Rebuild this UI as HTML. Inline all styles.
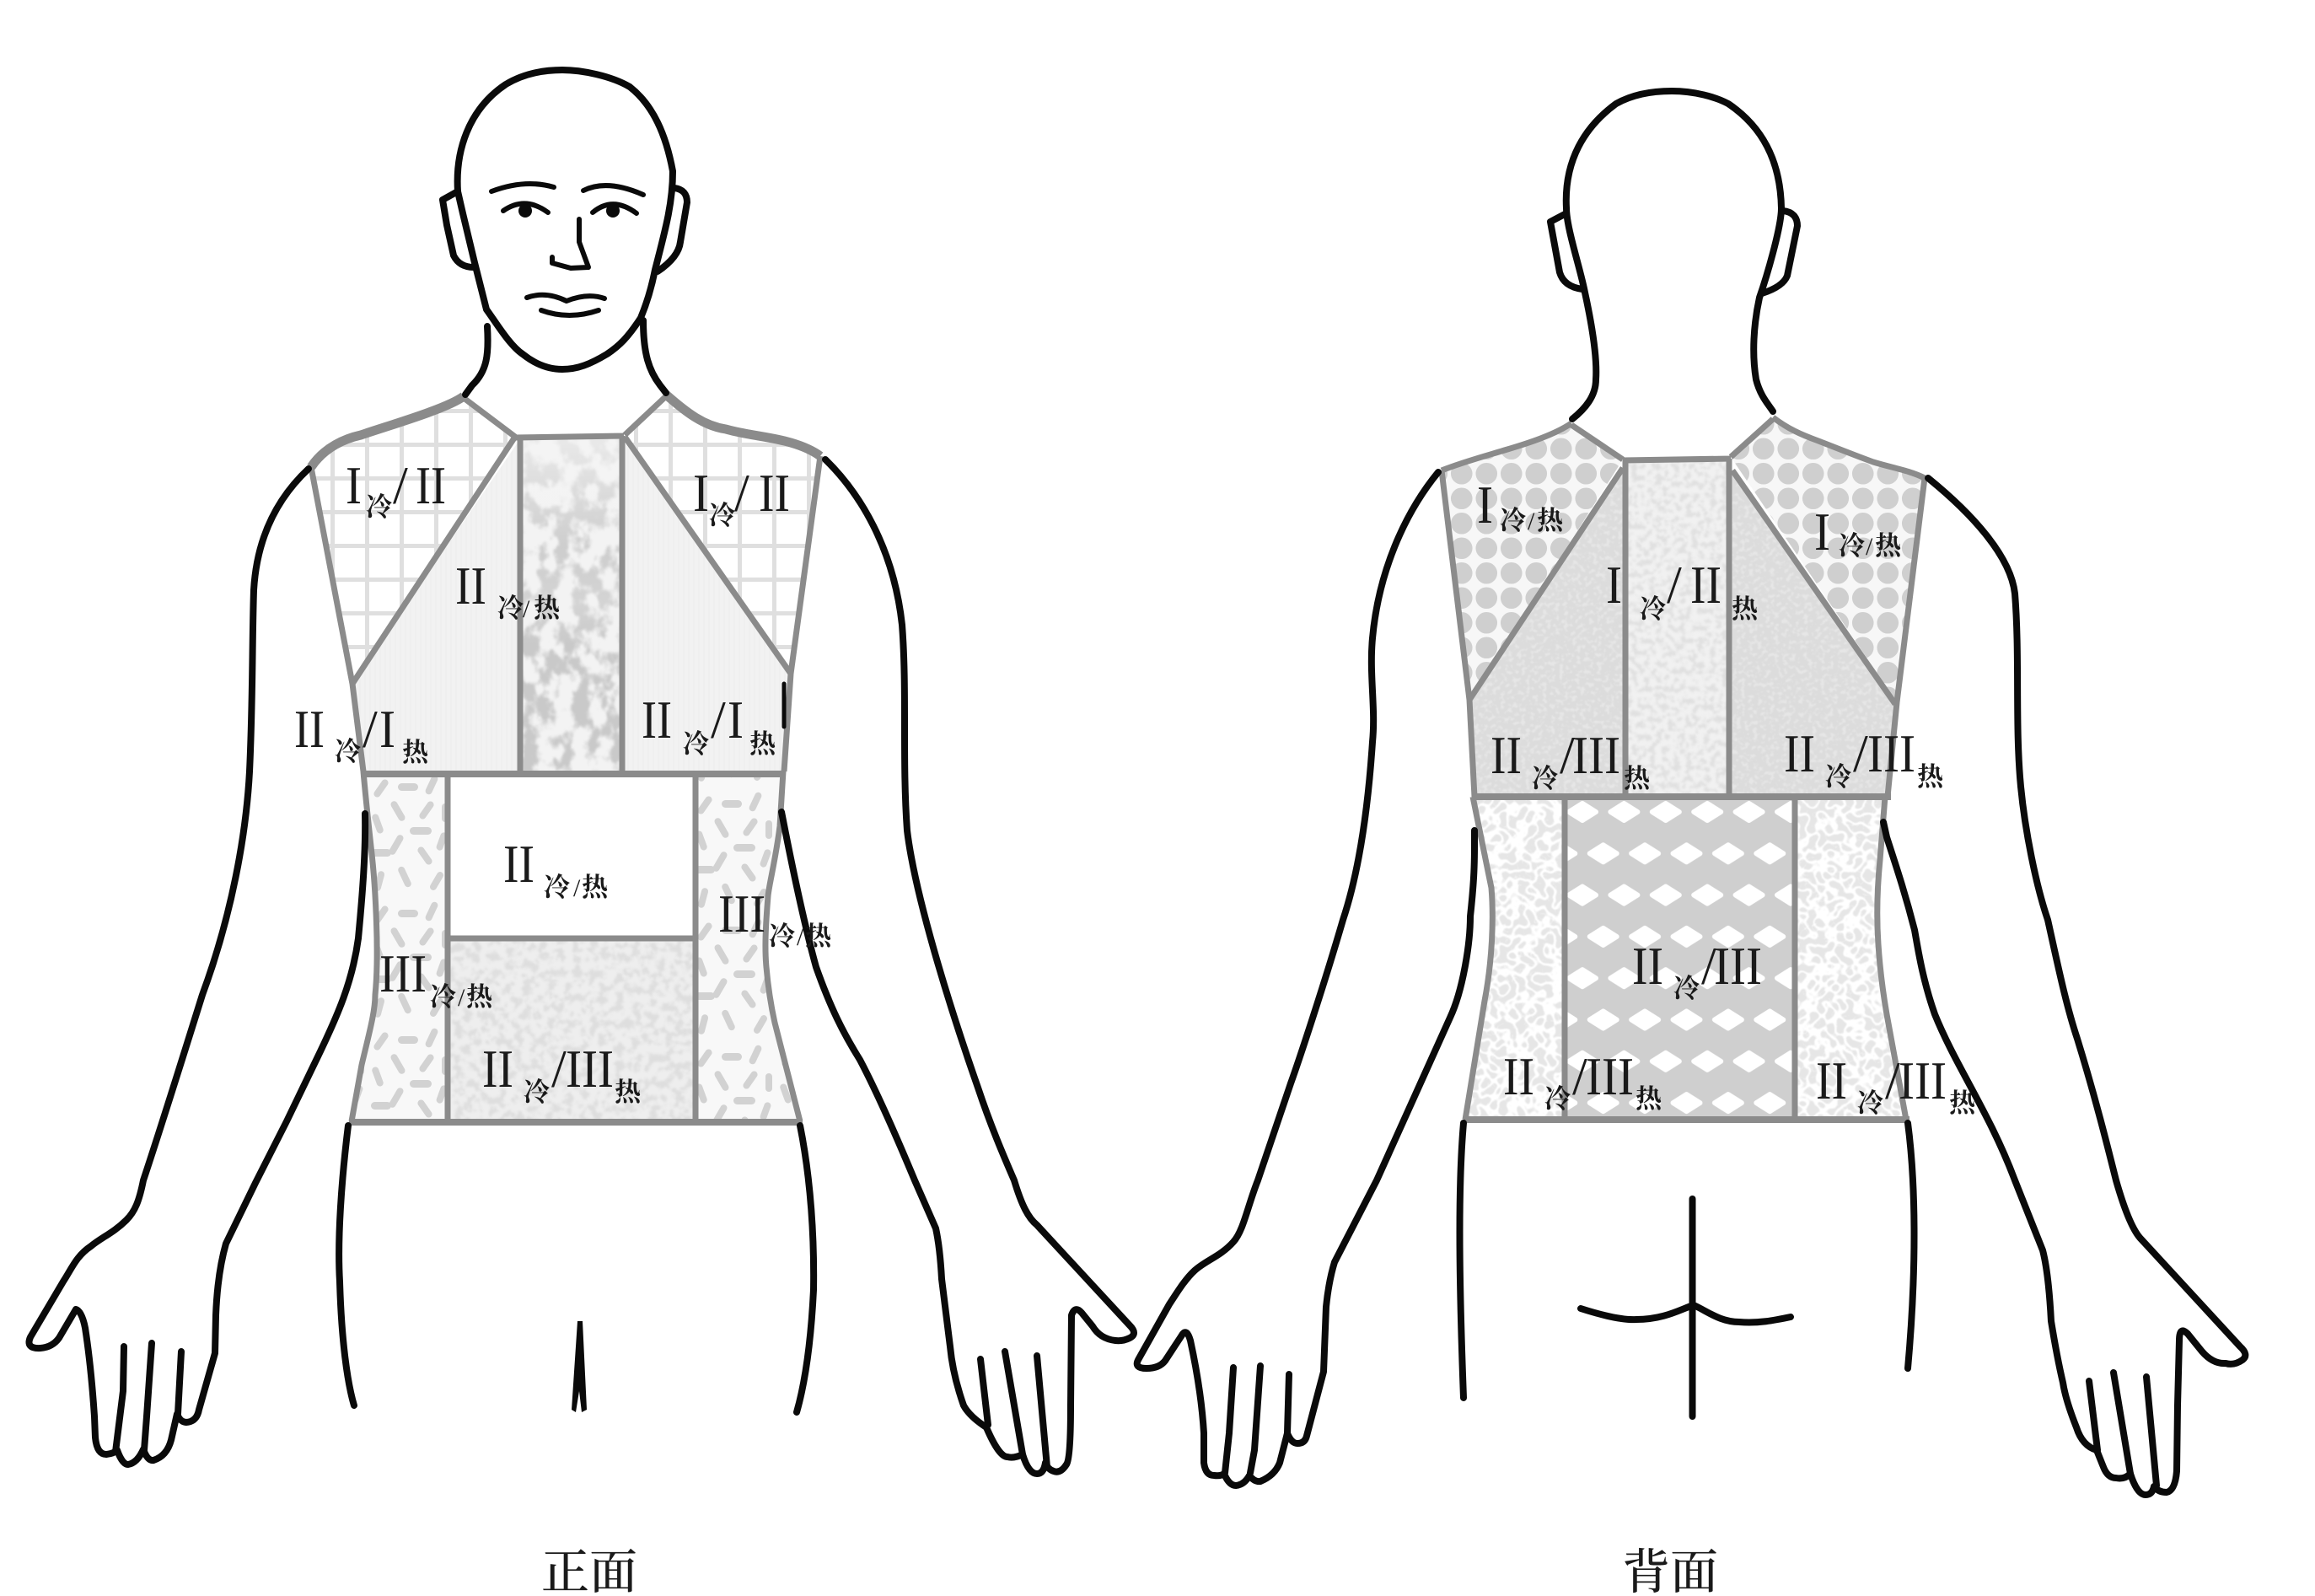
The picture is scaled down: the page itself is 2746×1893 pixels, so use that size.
<!DOCTYPE html>
<html lang="zh"><head><meta charset="utf-8"><title>正面 背面</title>
<style>
html,body{margin:0;padding:0;background:#fff}
svg{display:block}
.b{fill:none;stroke:#0a0a0a;stroke-width:8;stroke-linecap:round;stroke-linejoin:round}
.g{fill:none;stroke:#8b8b8b;stroke-width:7;stroke-linecap:butt;stroke-linejoin:round}
text{fill:#1a1a1a}
.n{font-family:"Liberation Serif",serif;font-size:64px}
.c{font-family:"Liberation Serif","Noto Serif CJK SC",serif;font-size:31px;font-weight:700}
.s{font-family:"Liberation Serif",serif;font-size:30px}
.t{font-family:"Liberation Serif","Noto Serif CJK SC",serif;font-size:57px;font-weight:500}
</style></head><body>
<svg xmlns="http://www.w3.org/2000/svg" width="2746" height="1893" viewBox="0 0 2746 1893">
<defs>
<linearGradient id="fadeV" x1="0" y1="0" x2="0" y2="1"><stop offset="0" stop-color="#f4f4f4" stop-opacity=".75"/><stop offset=".33" stop-color="#f4f4f4" stop-opacity=".1"/><stop offset=".5" stop-color="#f4f4f4" stop-opacity=".25"/><stop offset=".62" stop-color="#f4f4f4" stop-opacity="0"/><stop offset="1" stop-color="#f4f4f4" stop-opacity="0"/></linearGradient>
<pattern id="gridL" patternUnits="userSpaceOnUse" width="41" height="40" x="0" y="0"><rect x="23" width="5" height="40" fill="#dfdfdf"/><rect y="5" width="41" height="5" fill="#dfdfdf"/></pattern>
<pattern id="gridR" patternUnits="userSpaceOnUse" width="41" height="40" x="0" y="0"><rect x="14" width="5" height="40" fill="#dfdfdf"/><rect y="5" width="41" height="5" fill="#dfdfdf"/></pattern>
<pattern id="stripes" patternUnits="userSpaceOnUse" width="6" height="6"><rect width="6" height="6" fill="#f2f2f2"/><rect width="2" height="6" fill="#efefef"/></pattern>
<pattern id="dotsL" patternUnits="userSpaceOnUse" width="29.5" height="29.5" x="1778" y="547"><rect width="29.5" height="29.5" fill="#f7f7f7"/><circle cx="14.75" cy="14.75" r="12.800" fill="#cfcfcf"/></pattern>
<pattern id="dotsR" patternUnits="userSpaceOnUse" width="29.5" height="29.5" x="2077" y="547"><rect width="29.5" height="29.5" fill="#f7f7f7"/><circle cx="14.75" cy="14.75" r="12.800" fill="#cfcfcf"/></pattern>
<g id="dm"><path d="M-16 0L0 -10L16 0L0 10Z" fill="#fff" stroke="#fff" stroke-width="6" stroke-linejoin="round"/></g>
<pattern id="diam" patternUnits="userSpaceOnUse" width="49.4" height="98.6" x="1877" y="963"><rect width="49.4" height="98.6" fill="#cfcfcf"/><use href="#dm" x="0" y="0"/><use href="#dm" x="49.4" y="0"/><use href="#dm" x="24.7" y="49.3"/><use href="#dm" x="0" y="98.6"/><use href="#dm" x="49.4" y="98.6"/></pattern>
<pattern id="pills" patternUnits="userSpaceOnUse" width="100" height="150" x="436" y="915">
<rect width="100" height="150" fill="#f8f8f8"/>
<g fill="#d2d2d2">
<rect x="12" y="8" width="8" height="24" rx="4" transform="rotate(35 16 20)"/>
<rect x="36" y="14" width="24" height="9" rx="4.500"/>
<rect x="72" y="4" width="8" height="24" rx="4" transform="rotate(25 76 16)"/>
<rect x="32" y="34" width="8" height="26" rx="4" transform="rotate(-30 36 47)"/>
<rect x="66" y="34" width="8" height="24" rx="4" transform="rotate(35 70 46)"/>
<rect x="88" y="38" width="8" height="22" rx="4"/>
<rect x="8" y="50" width="8" height="24" rx="4" transform="rotate(-20 12 62)"/>
<rect x="50" y="66" width="26" height="9" rx="4.500"/>
<rect x="84" y="72" width="8" height="22" rx="4" transform="rotate(20 88 83)"/>
<rect x="30" y="74" width="8" height="26" rx="4" transform="rotate(30 34 87)"/>
<rect x="64" y="88" width="8" height="24" rx="4" transform="rotate(-35 68 100)"/>
<rect x="4" y="92" width="24" height="9" rx="4.500"/>
<rect x="40" y="112" width="8" height="26" rx="4" transform="rotate(-25 44 125)"/>
<rect x="78" y="118" width="8" height="24" rx="4" transform="rotate(30 82 130)"/>
<rect x="10" y="118" width="8" height="24" rx="4" transform="rotate(15 14 130)"/>
</g></pattern>
<pattern id="pillsR" href="#pills" x="820" y="935"/>
<filter id="mA" x="0" y="0" width="1" height="1" color-interpolation-filters="sRGB"><feTurbulence type="fractalNoise" baseFrequency=".05 .04" numOctaves="4" seed="3"/><feColorMatrix values="0 0 0 0 .79 0 0 0 0 .79 0 0 0 0 .79 6 0 0 0 -2.600"/><feGaussianBlur stdDeviation="1"/></filter>
<filter id="mB" x="0" y="0" width="1" height="1" color-interpolation-filters="sRGB"><feTurbulence type="fractalNoise" baseFrequency=".1" numOctaves="3" seed="8"/><feColorMatrix values="0 0 0 0 .87 0 0 0 0 .87 0 0 0 0 .87 6 0 0 0 -2.800"/><feGaussianBlur stdDeviation="1"/></filter>
<filter id="mC" x="0" y="0" width="1" height="1" color-interpolation-filters="sRGB"><feTurbulence type="fractalNoise" baseFrequency=".14" numOctaves="3" seed="5"/><feColorMatrix values="0 0 0 0 .88 0 0 0 0 .88 0 0 0 0 .88 6 0 0 0 -2.800"/><feGaussianBlur stdDeviation="1"/></filter>
<filter id="mD" x="0" y="0" width="1" height="1" color-interpolation-filters="sRGB"><feTurbulence type="fractalNoise" baseFrequency=".2" numOctaves="2" seed="11"/><feColorMatrix values="0 0 0 0 .9 0 0 0 0 .9 0 0 0 0 .9 6 0 0 0 -3"/><feGaussianBlur stdDeviation=".8"/></filter>
<filter id="mE" x="0" y="0" width="1" height="1" color-interpolation-filters="sRGB"><feTurbulence type="turbulence" baseFrequency=".09" numOctaves="1" seed="21"/><feColorMatrix values="0 0 0 0 1 0 0 0 0 1 0 0 0 0 1 -14 0 0 0 2.400"/><feGaussianBlur stdDeviation=".7"/></filter>
<clipPath id="cpBTL"><path d="M1925 557L1925 945L1749 945L1743 828Z"/></clipPath>
<clipPath id="cpBTR"><path d="M2053 560L2248 835L2239 945L2053 945Z"/></clipPath>
<clipPath id="cpBSL"><path d="M1747 945L1856 945L1856 1328L1738 1328L1761 1187C1770 1140 1772 1090 1769 1053Z"/></clipPath>
<clipPath id="cpBSR"><path d="M2129 945L2236 945L2230 1020C2226 1060 2226 1090 2228 1120C2230 1150 2234 1180 2238 1203L2261 1328L2129 1328Z"/></clipPath>
</defs>

<!-- FRONT FILLS -->
<path d="M550 470L611 518L418 811L369 554C385 530 410 520 428 516C460 505 530 485 550 470Z" fill="url(#gridL)"/>
<path d="M790 468L741 516L938 799L973 541C965 535 955 530 938 525C915 518 885 516 861 509C835 505 815 490 790 468Z" fill="url(#gridR)"/>
<path d="M614 525L617 915L430 915L418 811Z" fill="url(#stripes)"/>
<path d="M741 525L938 799L930 915L738 915Z" fill="url(#stripes)"/>
<rect x="617" y="519" width="121" height="396" fill="#f3f3f3"/>
<rect x="617" y="519" width="121" height="396" filter="url(#mA)"/>
<rect x="617" y="519" width="121" height="396" fill="url(#fadeV)"/>
<path d="M431 915L531 915L531 1330L417 1330L429 1263C438 1225 445 1200 445 1180C448 1150 447 1130 447 1113C446 1070 444 1040 441 1013Z" fill="url(#pills)"/>
<path d="M825 915L929 915L925 980C920 1020 912 1050 911 1063C908 1100 907 1125 909 1147C911 1170 915 1195 919 1213L949 1330L825 1330Z" fill="url(#pillsR)"/>
<rect x="531" y="1113" width="294" height="217" fill="#eeeeee"/>
<rect x="531" y="1113" width="294" height="217" filter="url(#mB)"/>

<!-- FRONT GREY LINES -->
<g class="g">
<path style="stroke-width:11" d="M369 554C385 530 410 520 428 516C460 505 530 485 550 470"/>
<path style="stroke-width:11" d="M790 468C815 490 835 505 861 509C885 516 915 518 938 525C955 530 965 535 973 541"/>
<path d="M550 472L611 518M790 470L741 516M611 519L740 517"/>
<path d="M611 518L418 811M741 518L938 799"/>
<path d="M369 554L418 811L431 915M973 541L938 799L930 915"/>
<path d="M617 519V915M738 517V915"/>
<path style="stroke-width:8" d="M428 918H932"/>
<path d="M431 915C434 950 438 985 441 1013C444 1040 446 1070 447 1113C447 1130 448 1150 445 1180C445 1200 438 1225 429 1263L417 1330"/>
<path d="M929 915L925 980C920 1020 912 1050 911 1063C908 1100 907 1125 909 1147C911 1170 915 1195 919 1213L949 1330"/>
<path d="M531 918V1330M825 918V1330M531 1113H825"/>
<path style="stroke-width:8" d="M414 1331H952"/>
</g>

<!-- BACK FILLS -->
<path d="M1864 502L1925 545L1743 830L1710 558C1735 548 1765 540 1788 533C1815 525 1845 515 1864 502Z" fill="url(#dotsL)"/>
<path d="M2103 495L2053 542L2250 833L2283 567C2265 558 2245 555 2222 548C2200 540 2175 530 2157 523C2135 515 2120 508 2103 495Z" fill="url(#dotsR)"/>
<path d="M1925 557L1925 945L1749 945L1743 828Z" fill="#dcdcdc"/>
<path d="M2053 560L2248 835L2239 945L2053 945Z" fill="#dcdcdc"/>
<g clip-path="url(#cpBTL)"><rect x="1740" y="550" width="190" height="400" filter="url(#mD)"/></g>
<g clip-path="url(#cpBTR)"><rect x="2050" y="550" width="200" height="400" filter="url(#mD)"/></g>
<rect x="1928" y="545" width="123" height="400" fill="#f1f1f1"/>
<rect x="1928" y="545" width="123" height="400" filter="url(#mC)"/>
<rect x="1856" y="945" width="273" height="383" fill="url(#diam)"/>
<g clip-path="url(#cpBSL)"><rect x="1735" y="945" width="125" height="385" fill="#e6e6e6"/><rect x="1735" y="945" width="125" height="385" filter="url(#mE)"/></g>
<g clip-path="url(#cpBSR)"><rect x="2125" y="945" width="140" height="385" fill="#e6e6e6"/><rect x="2125" y="945" width="140" height="385" filter="url(#mE)"/></g>

<!-- BACK GREY LINES -->
<g class="g">
<path d="M1710 558C1735 548 1765 540 1788 533C1815 525 1845 515 1864 502"/>
<path d="M2103 495C2120 508 2135 515 2157 523C2175 530 2200 540 2222 548C2245 555 2265 558 2283 567"/>
<path d="M1864 504L1925 545M2103 497L2053 542M1925 546L2053 544"/>
<path d="M1925 555L1743 830M2055 558L2248 835"/>
<path d="M1710 558L1743 830L1749 945M2283 567L2250 833L2239 945"/>
<path d="M1928 546V945M2051 544V945"/>
<path style="stroke-width:8" d="M1746 945H2243"/>
<path d="M1747 945L1769 1053C1772 1090 1770 1140 1761 1187L1738 1328"/>
<path d="M2236 945L2230 1020C2226 1060 2226 1090 2228 1120C2230 1150 2234 1180 2238 1203L2261 1328"/>
<path d="M1856 945V1328M2129 945V1328"/>
<path style="stroke-width:8" d="M1736 1328H2265"/>
</g>

<!-- FRONT BLACK -->
<g class="b">
<path d="M543 227C540 180 555 130 600 100C625 85 650 83 667 83C690 83 725 90 747 103C775 125 790 160 798 203C798 240 790 270 777 320C772 345 765 365 760 377C745 400 735 410 720 420C700 432 685 438 667 438C650 438 635 432 620 420C605 410 590 385 577 367C570 340 555 280 543 227Z"/>
<path d="M543 227L525 237L530 267L538 303Q545 317 562 317"/>
<path d="M800 223Q815 225 815 240L807 287Q805 305 780 322"/>
<path d="M578 387C580 420 578 440 560 457L552 468M763 380C763 420 770 440 783 457L790 466"/>
<path style="stroke-width:6" d="M583 227Q623 212 657 222M692 226Q720 212 763 231"/>
<path style="stroke-width:6" d="M597 250Q623 232 650 252M703 252Q727 232 755 253"/>
<path style="stroke-width:6" d="M687 260L687 287L698 317L677 318L655 312L655 305"/>
<path style="stroke-width:6" d="M625 353Q647 345 672 357Q697 347 717 354"/>
<path style="stroke-width:6" d="M642 368Q675 380 710 368"/>
<path d="M366 556C335 585 305 630 301 700C299 760 300 830 296 915C292 990 275 1085 240 1180C215 1260 190 1340 170 1400C165 1425 160 1437 150 1447C135 1462 120 1468 108 1478C90 1490 85 1505 75 1520L36 1586Q30 1600 48 1599Q62 1598 70 1587L90 1553Q97 1555 101 1575Q108 1620 112 1680L113 1705Q115 1725 126 1725Q135 1724 139 1720Q145 1737 152 1737Q163 1735 170 1719Q175 1733 182 1732Q198 1727 203 1708L210 1677Q215 1690 226 1686Q234 1683 236 1672L255 1605L256 1560Q258 1510 268 1475L303 1403L340 1330L380 1247C400 1205 418 1165 425 1113C430 1060 434 1010 433 965"/>
<path d="M147 1597L146 1650L137 1722M180 1593L174 1680L171 1720M215 1603L211 1677"/>
<path d="M979 545C1020 585 1060 650 1070 741C1076 820 1070 900 1076 985C1085 1060 1125 1190 1160 1290C1175 1335 1190 1370 1203 1400C1212 1430 1220 1445 1230 1453L1340 1572Q1350 1582 1340 1587Q1332 1591 1323 1590Q1305 1588 1296 1573L1283 1557Q1275 1548 1271 1560L1270 1667Q1270 1730 1265 1737Q1258 1748 1250 1745Q1243 1743 1240 1735Q1238 1748 1230 1748Q1220 1748 1213 1725Q1203 1730 1195 1728Q1185 1728 1170 1693Q1150 1680 1143 1667Q1130 1630 1127 1597L1117 1517Q1115 1480 1110 1457L1085 1400C1060 1340 1040 1295 1020 1257C1000 1225 985 1195 968 1147C955 1100 940 1030 927 963"/>
<path d="M1163 1612L1172 1690M1192 1603L1213 1725M1230 1608L1242 1740"/>
<path d="M413 1335C405 1400 400 1470 403 1520C405 1590 412 1640 420 1667"/>
<path d="M949 1335C962 1400 966 1470 965 1530C962 1590 955 1640 945 1675"/>
<path style="stroke-width:5" d="M930 811V862"/>
</g>
<path d="M685 1567L691 1567L696 1672L690 1675L687 1650L683 1675L678 1672Z" fill="#0a0a0a"/>
<circle cx="623" cy="250" r="8" fill="#0a0a0a"/><circle cx="727" cy="250" r="8" fill="#0a0a0a"/>

<!-- BACK BLACK -->
<g class="b">
<path d="M1865 497C1880 485 1893 470 1893 450C1895 420 1885 370 1880 347C1875 320 1858 270 1858 247C1855 190 1880 150 1917 123C1940 110 1965 108 1983 108C2010 108 2035 115 2050 123C2090 150 2112 190 2113 247C2113 270 2095 330 2087 353C2080 385 2078 420 2083 450C2088 470 2098 480 2103 488"/>
<path d="M1858 253L1839 263L1850 323Q1855 340 1877 343"/>
<path d="M2115 250Q2132 252 2132 268L2120 327Q2115 340 2090 348"/>
<path d="M1706 560C1665 610 1635 680 1628 757C1624 800 1632 840 1628 880C1622 970 1610 1040 1593 1091C1570 1170 1540 1260 1531 1285L1492 1400C1480 1430 1475 1460 1463 1473C1448 1490 1430 1495 1417 1507C1405 1518 1395 1535 1387 1547L1350 1613Q1345 1623 1360 1623Q1375 1623 1382 1614L1403 1582Q1408 1576 1412 1590Q1425 1650 1428 1700L1428 1735Q1430 1750 1440 1750Q1448 1751 1452 1748Q1458 1762 1466 1762Q1476 1761 1482 1750Q1488 1758 1495 1757Q1512 1750 1518 1735L1527 1700Q1532 1712 1539 1712Q1548 1712 1550 1703L1570 1627L1573 1550Q1576 1520 1583 1497L1633 1400L1720 1207C1735 1175 1744 1120 1744 1087C1748 1050 1749 1030 1749 1003L1749 985"/>
<path d="M1463 1622L1458 1700L1453 1747M1495 1620L1488 1720L1483 1747M1529 1630L1527 1700"/>
<path d="M2287 567C2340 610 2385 660 2390 704C2396 780 2390 860 2397 933C2402 985 2415 1050 2429 1091C2440 1140 2450 1190 2464 1232C2485 1300 2500 1360 2510 1400C2520 1435 2530 1460 2540 1470L2657 1597Q2668 1607 2660 1613Q2650 1620 2640 1617Q2625 1618 2612 1603L2595 1582Q2585 1572 2585 1590L2583 1667L2582 1745Q2580 1768 2570 1770Q2560 1770 2555 1763Q2553 1773 2545 1773Q2535 1773 2527 1748Q2520 1755 2510 1753Q2500 1753 2495 1740L2487 1720Q2470 1715 2463 1693Q2450 1660 2447 1640Q2440 1610 2433 1567Q2430 1510 2423 1483L2390 1400C2360 1320 2320 1265 2295 1203C2280 1160 2275 1125 2271 1103C2260 1060 2250 1030 2238 993L2234 975"/>
<path d="M2478 1638L2488 1720M2507 1628L2527 1748M2546 1633L2558 1762"/>
<path d="M1736 1332C1730 1400 1730 1500 1736 1658"/>
<path d="M2263 1332C2272 1400 2274 1500 2263 1623"/>
<path d="M2007.500 1422V1680"/>
<path d="M1875 1552C1900 1560 1925 1566 1941 1565C1975 1565 1995 1552 2009 1548C2025 1555 2040 1568 2063 1568C2085 1570 2105 1566 2124 1562"/>
</g>

<!-- LABELS FRONT -->
<text class="n" x="410" y="597" textLength="19" lengthAdjust="spacingAndGlyphs">I</text><text class="c" x="434" y="612">冷</text><text class="n" x="466" y="597">/</text><text class="n" x="493" y="597" textLength="36" lengthAdjust="spacingAndGlyphs">II</text>
<text class="n" x="822" y="606" textLength="19" lengthAdjust="spacingAndGlyphs">I</text><text class="c" x="841" y="622">冷</text><text class="n" x="871" y="606">/</text><text class="n" x="900" y="606" textLength="37" lengthAdjust="spacingAndGlyphs">II</text>
<text class="n" x="540" y="716" textLength="37" lengthAdjust="spacingAndGlyphs">II</text><text class="c" x="590" y="732">冷</text><text class="s" x="620" y="732">/</text><text class="c" x="633" y="732">热</text>
<text class="n" x="349" y="886" textLength="36" lengthAdjust="spacingAndGlyphs">II</text><text class="c" x="397" y="902">冷</text><text class="n" x="430" y="886">/</text><text class="n" x="450" y="886" textLength="19" lengthAdjust="spacingAndGlyphs">I</text><text class="c" x="477" y="903">热</text>
<text class="n" x="761" y="875" textLength="36" lengthAdjust="spacingAndGlyphs">II</text><text class="c" x="810" y="893">冷</text><text class="n" x="843" y="875">/</text><text class="n" x="863" y="875" textLength="19" lengthAdjust="spacingAndGlyphs">I</text><text class="c" x="889" y="893">热</text>
<text class="n" x="597" y="1046" textLength="37" lengthAdjust="spacingAndGlyphs">II</text><text class="c" x="645" y="1063">冷</text><text class="s" x="680" y="1063">/</text><text class="c" x="690" y="1063">热</text>
<text class="n" x="852" y="1105" textLength="56" lengthAdjust="spacingAndGlyphs">III</text><text class="c" x="912" y="1121">冷</text><text class="s" x="945" y="1121">/</text><text class="c" x="955" y="1121">热</text>
<text class="n" x="450" y="1176" textLength="56" lengthAdjust="spacingAndGlyphs">III</text><text class="c" x="510" y="1193">冷</text><text class="s" x="543" y="1193">/</text><text class="c" x="553" y="1193">热</text>
<text class="n" x="572" y="1289" textLength="37" lengthAdjust="spacingAndGlyphs">II</text><text class="c" x="621" y="1306">冷</text><text class="n" x="654" y="1289">/</text><text class="n" x="671" y="1289" textLength="57" lengthAdjust="spacingAndGlyphs">III</text><text class="c" x="729" y="1306">热</text>

<!-- LABELS BACK -->
<text class="n" x="1752" y="620" textLength="19" lengthAdjust="spacingAndGlyphs">I</text><text class="c" x="1779" y="628">冷</text><text class="s" x="1812" y="628">/</text><text class="c" x="1823" y="628">热</text>
<text class="n" x="2152" y="652" textLength="19" lengthAdjust="spacingAndGlyphs">I</text><text class="c" x="2181" y="658">冷</text><text class="s" x="2213" y="658">/</text><text class="c" x="2224" y="658">热</text>
<text class="n" x="1905" y="715" textLength="19" lengthAdjust="spacingAndGlyphs">I</text><text class="c" x="1945" y="733">冷</text><text class="n" x="1977" y="715">/</text><text class="n" x="2005" y="715" textLength="37" lengthAdjust="spacingAndGlyphs">II</text><text class="c" x="2054" y="733">热</text>
<text class="n" x="1768" y="917" textLength="37" lengthAdjust="spacingAndGlyphs">II</text><text class="c" x="1817" y="934">冷</text><text class="n" x="1850" y="917">/</text><text class="n" x="1865" y="917" textLength="57" lengthAdjust="spacingAndGlyphs">III</text><text class="c" x="1926" y="934">热</text>
<text class="n" x="2116" y="915" textLength="37" lengthAdjust="spacingAndGlyphs">II</text><text class="c" x="2165" y="932">冷</text><text class="n" x="2198" y="915">/</text><text class="n" x="2215" y="915" textLength="57" lengthAdjust="spacingAndGlyphs">III</text><text class="c" x="2274" y="932">热</text>
<text class="n" x="1936" y="1167" textLength="37" lengthAdjust="spacingAndGlyphs">II</text><text class="c" x="1985" y="1183">冷</text><text class="n" x="2018" y="1167">/</text><text class="n" x="2033" y="1167" textLength="57" lengthAdjust="spacingAndGlyphs">III</text>
<text class="n" x="1783" y="1298" textLength="37" lengthAdjust="spacingAndGlyphs">II</text><text class="c" x="1832" y="1314">冷</text><text class="n" x="1865" y="1298">/</text><text class="n" x="1881" y="1298" textLength="57" lengthAdjust="spacingAndGlyphs">III</text><text class="c" x="1940" y="1314">热</text>
<text class="n" x="2154" y="1303" textLength="37" lengthAdjust="spacingAndGlyphs">II</text><text class="c" x="2203" y="1319">冷</text><text class="n" x="2236" y="1303">/</text><text class="n" x="2252" y="1303" textLength="57" lengthAdjust="spacingAndGlyphs">III</text><text class="c" x="2312" y="1319">热</text>

<text class="t" x="642" y="1884">正面</text>
<text class="t" x="1924" y="1884">背面</text>
</svg>
</body></html>
